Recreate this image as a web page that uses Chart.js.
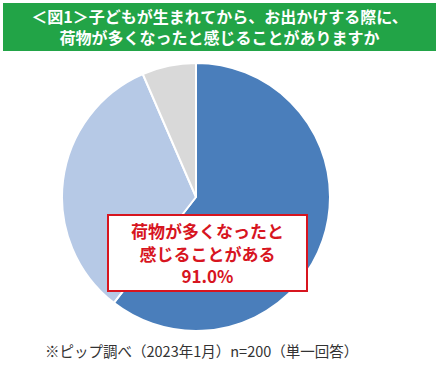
<!DOCTYPE html>
<html>
<head>
<meta charset="utf-8">
<script src="https://cdn.jsdelivr.net/npm/chart.js@4"></script>
<style>
  body { margin: 0; width: 440px; height: 381px; background: #fff; position: relative; overflow: hidden;
         font-family: "Noto Sans CJK JP", "Noto Sans", sans-serif; }
  #title { position: absolute; left: 3px; top: 3px; width: 433px; height: 48px; background: #22a447;
           color: #fff; font-weight: bold; font-size: 16px; line-height: 21px; text-align: center;
           padding-top: 3px; box-sizing: border-box; white-space: nowrap; }
  #wrap { position: absolute; left: 61px; top: 62px; width: 270px; height: 270px; }
  #callout { position: absolute; left: 107px; top: 214px; width: 201px; height: 78px; box-sizing: border-box;
             background: #fff; border: 2px solid #d7151f; color: #d7151f; font-weight: bold;
             font-size: 17px; line-height: 22.5px; text-align: center; padding-top: 4px; }
  #note { position: absolute; left: 45px; top: 340px; font-size: 14.5px; color: #333; }
</style>
</head>
<body>
<div id="title">＜図1＞子どもが生まれてから、お出かけする際に、<br>荷物が多くなったと感じることがありますか</div>
<div id="wrap"><canvas id="myPie"></canvas></div>
<div id="callout">荷物が多くなったと<br>感じることがある<br>91.0%</div>
<div id="note">※ピップ調べ（2023年1月）n=200（単一回答）</div>
<script>
  // answers, clockwise from 12 o'clock
  const labels = ['よくある', 'たまにある', 'ない'];
  const values = [60.5, 33.0, 6.5];
  const colors = ['#4a7ebb', '#b6c9e6', '#d9d9d9'];

  const ctx = document.getElementById('myPie');

  new Chart(ctx, {
    type: 'pie',
    data: {
      labels: labels,
      datasets: [{
        data: values,
        backgroundColor: colors,
        borderColor: '#ffffff',
        borderWidth: 2,
        hoverOffset: 0
      }]
    },
    options: {
      responsive: true,
      maintainAspectRatio: false,
      animation: false,
      layout: { padding: 0 },
      plugins: {
        legend: { display: false },
        tooltip: { enabled: false }
      }
    }
  });
</script>
</body>
</html>
